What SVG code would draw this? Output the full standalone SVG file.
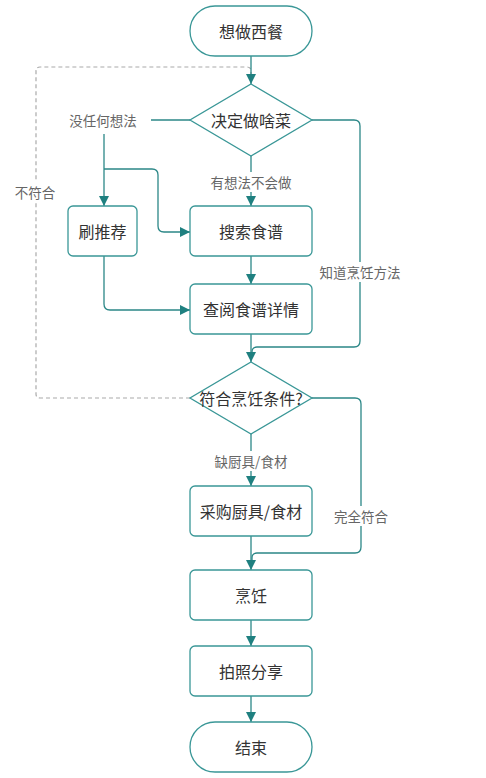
<svg xmlns="http://www.w3.org/2000/svg" width="486" height="778" viewBox="0 0 486 778">
<style>
.n{fill:#fff;stroke:#3a9797;stroke-width:1.3}
.t{font-family:"Noto Sans CJK SC","Liberation Sans",sans-serif;font-size:16px;fill:#333;text-anchor:middle;dominant-baseline:central}
.l{font-family:"Noto Sans CJK SC","Liberation Sans",sans-serif;font-size:13.5px;fill:#666;text-anchor:middle;dominant-baseline:central}
.c{fill:none;stroke:#2b8787;stroke-width:1.3}
.d{fill:none;stroke:#aaa;stroke-width:1.2;stroke-dasharray:4 3}
</style>
<defs>
<marker id="a" markerUnits="userSpaceOnUse" markerWidth="12" markerHeight="10" refX="10" refY="5" orient="auto" viewBox="0 0 12 10">
<path d="M0,0 L10,5 L0,10 z" fill="#1f8080"/>
</marker>
</defs>
<g id="connectors">
<path class="d" d="M190,398 H40 Q36,398 36,394 V71 Q36,67 40,67 H247 Q251,67 251,71 V76"/>
<path class="c" d="M251,56 V84" marker-end="url(#a)"/>
<path class="c" d="M190,120 H151"/>
<path class="c" d="M104,134 V206" marker-end="url(#a)"/>
<path class="c" d="M104,169 H152 Q158,169 158,175 V226 Q158,232 164,232 H190" marker-end="url(#a)"/>
<path class="c" d="M251,156 V172"/>
<path class="c" d="M251,192 V206" marker-end="url(#a)"/>
<path class="c" d="M251,256 V284" marker-end="url(#a)"/>
<path class="c" d="M104,256 V304 Q104,310 110,310 H190" marker-end="url(#a)"/>
<path class="c" d="M312,120 H354 Q360,120 360,126 V341 Q360,347 354,347 H257 Q252,347 252,352 V356"/>
<path class="c" d="M251,334 V362" marker-end="url(#a)"/>
<path class="c" d="M312,398 H355 Q361,398 361,404 V547 Q361,553 355,553 H257 Q252,553 252,558 V562"/>
<path class="c" d="M251,434 V451"/>
<path class="c" d="M251,471 V486" marker-end="url(#a)"/>
<path class="c" d="M251,536 V570" marker-end="url(#a)"/>
<path class="c" d="M251,620 V646" marker-end="url(#a)"/>
<path class="c" d="M251,696 V722" marker-end="url(#a)"/>
<rect x="12" y="182" width="46" height="20" fill="#fff"/>
<text class="l" x="35" y="192">不符合</text>
<text class="l" x="103" y="120">没任何想法</text>
<text class="l" x="251" y="182">有想法不会做</text>
<rect x="316" y="262" width="88" height="20" fill="#fff"/>
<text class="l" x="360" y="272">知道烹饪方法</text>
<text class="l" x="251" y="461">缺厨具/食材</text>
<rect x="331" y="506" width="60" height="20" fill="#fff"/>
<text class="l" x="361" y="516">完全符合</text>
</g>
<g id="start"><rect class="n" x="190" y="6" width="122" height="50" rx="25"/><text class="t" x="251" y="31">想做西餐</text></g>
<g id="decide"><path class="n" d="M251,84 L312,120 L251,156 L190,120 Z"/><text class="t" x="251" y="120">决定做啥菜</text></g>
<g id="recommend"><rect class="n" x="68" y="206" width="69" height="50" rx="5"/><text class="t" x="102.5" y="231">刷推荐</text></g>
<g id="search"><rect class="n" x="190" y="206" width="122" height="50" rx="5"/><text class="t" x="251" y="231">搜索食谱</text></g>
<g id="detail"><rect class="n" x="190" y="284" width="122" height="50" rx="5"/><text class="t" x="251" y="309">查阅食谱详情</text></g>
<g id="check"><path class="n" d="M251,362 L312,398 L251,434 L190,398 Z"/><text class="t" x="251" y="398">符合烹饪条件?</text></g>
<g id="buy"><rect class="n" x="190" y="486" width="122" height="50" rx="5"/><text class="t" x="251" y="511">采购厨具/食材</text></g>
<g id="cook"><rect class="n" x="190" y="570" width="122" height="50" rx="5"/><text class="t" x="251" y="595">烹饪</text></g>
<g id="share"><rect class="n" x="190" y="646" width="122" height="50" rx="5"/><text class="t" x="251" y="671">拍照分享</text></g>
<g id="end"><rect class="n" x="190" y="722" width="122" height="50" rx="25"/><text class="t" x="251" y="747">结束</text></g>
</svg>
